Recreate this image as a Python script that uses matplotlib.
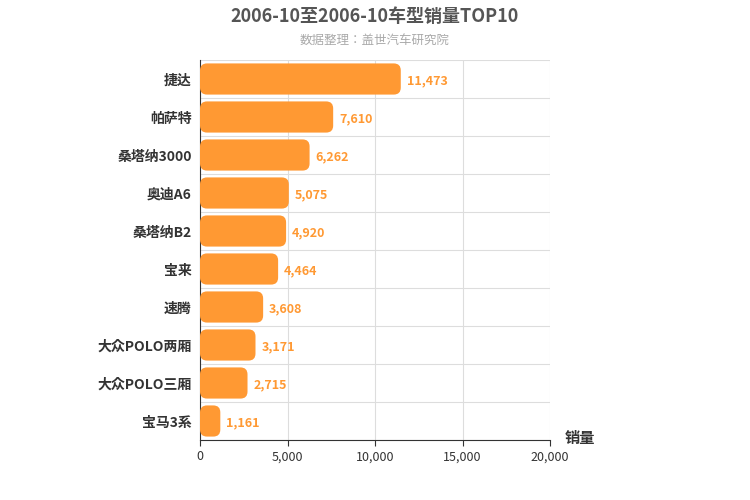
import matplotlib
matplotlib.use("Agg")
import matplotlib.pyplot as plt
from matplotlib.patches import FancyBboxPatch
from matplotlib import font_manager as fm

for f in fm.findSystemFonts():
    if "CJK" in f or "cjk" in f.lower():
        try:
            fm.fontManager.addfont(f)
        except Exception:
            pass
names = sorted({e.name for e in fm.fontManager.ttflist if "CJK" in e.name})
pref = [n for n in ["Noto Sans CJK SC", "Noto Sans CJK JP", "Noto Sans CJK TC", "Noto Sans CJK KR"] if n in names] + names
plt.rcParams["font.family"] = ["sans-serif"]
plt.rcParams["font.sans-serif"] = pref + ["DejaVu Sans"]

categories = ["捷达", "帕萨特", "桑塔纳3000", "奥迪A6", "桑塔纳B2", "宝来", "速腾", "大众POLO两厢", "大众POLO三厢", "宝马3系"]
values = [11473, 7610, 6262, 5075, 4920, 4464, 3608, 3171, 2715, 1161]
xticks = [0, 5000, 10000, 15000, 20000]

fig = plt.figure(figsize=(7.5, 5), dpi=100)
ax = fig.add_axes([200/750, 60/500, 350/750, 380/500])
n = len(categories)
ax.set_xlim(0, 20000)
ax.set_ylim(n, 0)
color = "#FF9933"
upx = 20000/350
upy = n/380
h = 0.82
for i, v in enumerate(values):
    y0 = i + 0.5 - h/2
    p = FancyBboxPatch((0, y0), v, h, boxstyle=f"round,pad=0,rounding_size={7*upx}",
                       mutation_aspect=upy/upx, fc=color, ec="none", zorder=3)
    ax.add_patch(p)
    ax.text(v + 6*upx, i + 0.55, f"{v:,}", va="center", ha="left", color=color,
            fontsize=9, fontweight="bold", zorder=4)
ax.set_yticks([i + 0.5 for i in range(n)])
ax.set_yticklabels(categories, fontsize=10, fontweight="bold", color="#333333")
ax.set_yticks(range(n + 1), minor=True)
ax.set_xticks(xticks)
ax.set_xticklabels([f"{t:,}" for t in xticks], fontsize=9, color="#333333")
ax.tick_params(axis="y", which="major", length=0, pad=6)
ax.tick_params(axis="y", which="minor", length=0)
ax.tick_params(axis="x", length=4, color="#333333")
ax.grid(axis="x", color="#dddddd", lw=0.8, zorder=0)
ax.grid(axis="y", which="minor", color="#dddddd", lw=0.8, zorder=0)
for s in ["top", "right"]:
    ax.spines[s].set_visible(False)
ax.spines["left"].set_color("#333333")
ax.spines["bottom"].set_color("#333333")
fig.text(565/750, 1-438/500, "销量", fontsize=11, fontweight="bold", color="#333333", ha="left", va="center")
fig.text(375/750, 1-16/500, "2006-10至2006-10车型销量TOP10", fontsize=13, fontweight="bold", color="#555555", ha="center", va="center")
fig.text(375/750, 1-40/500, "数据整理：盖世汽车研究院", fontsize=9, color="#aaaaaa", ha="center", va="center")
fig.savefig("out.png", dpi=100)
